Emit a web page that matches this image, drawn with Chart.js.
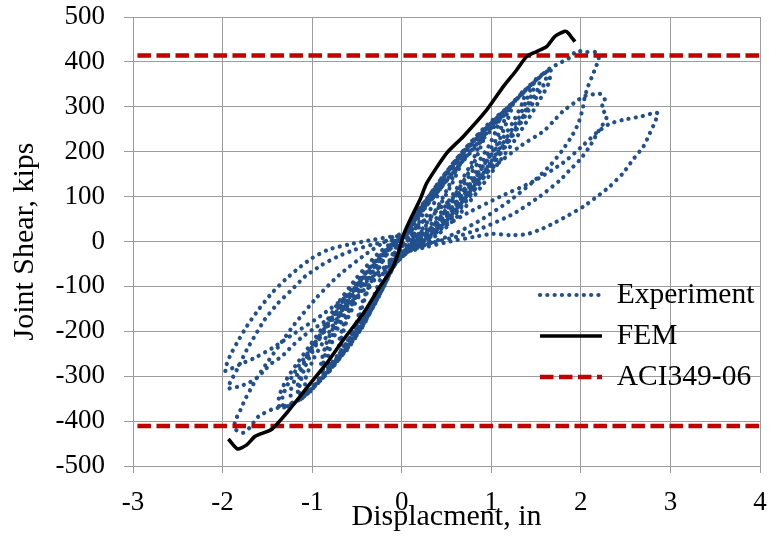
<!DOCTYPE html>
<html>
<head>
<meta charset="utf-8">
<script src="https://cdn.jsdelivr.net/npm/chart.js@4.4.1/dist/chart.umd.min.js"></script>
<style>html,body{margin:0;padding:0;background:#fff;}canvas{display:block;}</style>
</head>
<body>
<canvas id="c" width="777" height="539"></canvas>
<script>
// ---- tick labels ----
const xTicks = [-3, -2, -1, 0, 1, 2, 3, 4];
const yTicks = [-500, -400, -300, -200, -100, 0, 100, 200, 300, 400, 500];
const seriesNames = ['Experiment', 'FEM', 'ACI349-06'];

// ---- FEM curve ----
const femX = [-1.935,-1.835,-1.73,-1.637,-1.45,-1.284,-1.06,-0.837,-0.652,-0.428,-0.242,-0.1,-0.03,0.02,0.093,0.204,0.279,0.502,0.688,0.949,1.134,1.283,1.395,1.507,1.618,1.711,1.823,1.86,1.934];
const femY = [-440,-462,-453,-434,-418,-382,-326,-271,-219,-160,-100,-58,-20,15,48,93,130,197,234,293,345,382,412,423,434,457,468,464,445];

// ---- ACI349-06 limits ----
const aciX = [-2.95, 4];
const aciUpperY = [414, 414];
const aciLowerY = [-411, -411];

// ---- Experiment hysteresis, cycle by cycle ----
const expCycle1 = [[0,0],[0.08,28],[0.2,60],[0.17,45],[0.08,12],[0,-8],[-0.07,-28],[-0.15,-50],[-0.12,-38],[-0.05,-10],[0.02,8]];
const expCycle2 = [[0.12,50],[0.3,100],[0.27,80],[0.2,45],[0.08,5],[0,-12],[-0.08,-50],[-0.2,-100],[-0.18,-80],[-0.12,-45],[-0.03,-5],[0.02,10]];
const expCycle3 = [[0.12,48],[0.3,100],[0.48,150],[0.45,128],[0.36,85],[0.22,40],[0.08,0],[-0.02,-20],[-0.1,-55],[-0.2,-100],[-0.33,-150],[-0.32,-128],[-0.24,-85],[-0.13,-40],[-0.03,0],[0.03,12]];
const expCycle4 = [[0.12,50],[0.3,100],[0.48,150],[0.68,200],[0.64,175],[0.53,125],[0.38,70],[0.2,20],[0.05,-15],[-0.08,-50],[-0.2,-100],[-0.33,-150],[-0.47,-200],[-0.48,-175],[-0.4,-120],[-0.27,-65],[-0.12,-15],[0.02,12],
 [0.14,55],[0.32,105],[0.5,152],[0.7,198],[0.66,172],[0.56,128],[0.4,72],[0.22,22],[0.06,-12],[-0.07,-48],[-0.21,-104],[-0.35,-155],[-0.5,-203],[-0.5,-178],[-0.42,-124],[-0.28,-66],[-0.12,-14],[0.02,12]];
const expCycle5 = [[0.12,50],[0.3,100],[0.48,150],[0.68,200],[0.92,250],[0.88,222],[0.78,175],[0.62,120],[0.44,65],[0.25,20],[0.08,-18],[-0.08,-50],[-0.2,-100],[-0.33,-150],[-0.47,-200],[-0.65,-250],[-0.68,-222],[-0.6,-170],[-0.46,-115],[-0.3,-60],[-0.12,-12],[0.03,14],
 [0.14,52],[0.32,102],[0.5,154],[0.7,203],[0.95,252],[0.9,220],[0.8,172],[0.64,118],[0.46,62],[0.27,18],[0.09,-17],[-0.07,-48],[-0.22,-104],[-0.36,-156],[-0.5,-205],[-0.68,-254],[-0.7,-224],[-0.62,-168],[-0.48,-112],[-0.31,-58],[-0.12,-10],[0.03,13]];
const expCycle6 = [[0.12,50],[0.3,100],[0.5,155],[0.7,205],[0.93,255],[1.2,300],[1.15,272],[1.05,225],[0.88,170],[0.68,110],[0.47,55],[0.26,12],[0.08,-20],[-0.08,-52],[-0.21,-102],[-0.34,-152],[-0.48,-202],[-0.66,-252],[-0.86,-300],[-0.88,-275],[-0.82,-230],[-0.68,-170],[-0.5,-108],[-0.3,-50],[-0.1,-5],[0.04,15],
 [0.13,52],[0.31,103],[0.52,158],[0.73,208],[0.96,258],[1.23,303],[1.18,270],[1.08,222],[0.9,165],[0.7,105],[0.48,50],[0.27,10],[0.08,-21],[-0.07,-50],[-0.22,-105],[-0.36,-155],[-0.5,-205],[-0.68,-255],[-0.88,-302],[-0.9,-272],[-0.84,-226],[-0.7,-166],[-0.52,-104],[-0.31,-47],[-0.1,-3],[0.04,14],
 [0.15,48],[0.38,105],[0.6,160],[0.82,215],[0.98,250],[1.1,280],[1.07,255],[0.97,212],[0.8,160],[0.6,100],[0.4,45],[0.2,8],[0.04,-18],[-0.1,-56],[-0.26,-112],[-0.42,-165],[-0.6,-220],[-0.8,-280],[-0.82,-252],[-0.73,-200],[-0.57,-140],[-0.38,-80],[-0.2,-30],[-0.04,4],[0.05,14]];
const expCycle7 = [[0.13,50],[0.31,100],[0.5,152],[0.72,205],[0.95,255],[1.2,302],[1.45,350],[1.4,318],[1.3,272],[1.12,215],[0.92,155],[0.7,95],[0.48,42],[0.26,5],[0.07,-22],[-0.08,-52],[-0.21,-102],[-0.35,-152],[-0.48,-202],[-0.66,-252],[-0.87,-302],[-1.12,-350],[-1.14,-322],[-1.07,-275],[-0.9,-210],[-0.7,-145],[-0.48,-85],[-0.26,-32],[-0.06,3],[0.05,16],
 [0.14,53],[0.33,104],[0.53,156],[0.74,208],[0.98,260],[1.23,306],[1.48,352],[1.43,315],[1.33,268],[1.15,212],[0.94,150],[0.72,90],[0.5,38],[0.27,3],[0.07,-23],[-0.07,-50],[-0.22,-104],[-0.36,-155],[-0.5,-206],[-0.68,-256],[-0.9,-306],[-1.14,-352],[-1.16,-320],[-1.09,-270],[-0.92,-205],[-0.72,-140],[-0.5,-80],[-0.27,-28],[-0.06,5],[0.05,16],
 [0.14,45],[0.36,100],[0.58,155],[0.8,205],[1.03,255],[1.22,300],[1.38,340],[1.35,310],[1.24,265],[1.08,215],[0.88,160],[0.66,100],[0.45,50],[0.22,8],[0.04,-20],[-0.1,-58],[-0.25,-110],[-0.4,-160],[-0.56,-210],[-0.74,-260],[-0.92,-305],[-1.05,-340],[-1.08,-310],[-0.98,-260],[-0.82,-205],[-0.64,-145],[-0.44,-88],[-0.24,-36],[-0.05,2],[0.05,14]];
const expCycle8 = [[0.13,50],[0.31,100],[0.5,152],[0.72,205],[0.96,256],[1.22,305],[1.45,350],[1.62,380],[1.6,355],[1.5,320],[1.38,280],[1.22,230],[1.05,180],[0.85,125],[0.62,68],[0.4,22],[0.18,-8],[0,-28],[-0.12,-60],[-0.22,-102],[-0.36,-153],[-0.5,-204],[-0.68,-254],[-0.9,-305],[-1.12,-350],[-1.32,-370],[-1.33,-345],[-1.25,-310],[-1.16,-280],[-1.0,-235],[-0.85,-190],[-0.65,-135],[-0.45,-85],[-0.25,-38],[-0.05,0],[0.06,18],
 [0.15,50],[0.38,108],[0.62,165],[0.86,222],[1.1,275],[1.32,325],[1.55,370],[1.52,340],[1.42,300],[1.28,255],[1.1,205],[0.9,150],[0.68,92],[0.45,40],[0.22,2],[0.02,-26],[-0.12,-65],[-0.28,-120],[-0.45,-175],[-0.64,-232],[-0.85,-290],[-1.05,-335],[-1.22,-360],[-1.24,-332],[-1.15,-290],[-1.0,-240],[-0.82,-188],[-0.62,-130],[-0.42,-75],[-0.22,-28],[-0.04,4],[0.06,16],
 [0.15,55],[0.33,105],[0.52,155],[0.74,208],[0.98,260],[1.25,310],[1.48,355],[1.66,383],[1.64,352],[1.54,315],[1.42,275],[1.26,225],[1.08,175],[0.88,120],[0.65,62],[0.42,18],[0.2,-10],[0,-30],[-0.13,-62],[-0.23,-104],[-0.37,-156],[-0.52,-207],[-0.7,-257],[-0.92,-308],[-1.15,-352],[-1.36,-372],[-1.37,-345],[-1.28,-305],[-1.18,-275],[-1.02,-230],[-0.86,-185],[-0.66,-130],[-0.46,-80],[-0.25,-34],[-0.05,2],[0.06,16]];
const expCycle9 = [[0.13,50],[0.31,100],[0.5,152],[0.72,205],[0.96,256],[1.22,305],[1.45,350],[1.65,385],[1.77,398],[1.88,410],[1.95,424],[2.06,422],[2.16,422],[2.2,408],
 [2.17,390],[2.12,365],[2.07,340],[2.04,318],[2.02,295],[1.97,262],[1.9,235],[1.8,205],[1.66,170],[1.45,130],[1.2,90],[0.9,50],[0.6,18],[0.3,-5],[0.05,-25],
 [-0.08,-52],[-0.21,-102],[-0.35,-152],[-0.48,-202],[-0.66,-252],[-0.87,-302],[-1.12,-350],[-1.3,-366],[-1.45,-374],[-1.6,-390],[-1.7,-415],[-1.77,-426],[-1.86,-418],
 [-1.86,-400],[-1.8,-375],[-1.75,-352],[-1.69,-330],[-1.62,-305],[-1.52,-275],[-1.38,-235],[-1.2,-185],[-0.95,-125],[-0.7,-75],[-0.4,-28],[-0.1,10],[0.1,25]];
const expCycle10 = [[0.4,70],[0.75,125],[1.05,170],[1.32,212],[1.58,245],[1.69,267],[1.8,290],[1.92,308],[2.03,323],[2.14,328],[2.23,328],[2.27,314],[2.23,298],[2.29,278],
 [2.18,240],[2.1,212],[1.99,182],[1.88,160],[1.77,137],[1.54,100],[1.25,62],[0.9,30],[0.6,10],[0.3,-5],[0.05,-25],
 [-0.3,-85],[-0.65,-150],[-0.95,-190],[-1.12,-214],[-1.23,-234],[-1.34,-256],[-1.45,-271],[-1.53,-286],[-1.6,-301],[-1.71,-315],[-1.82,-323],[-1.94,-327],
 [-1.9,-308],[-1.82,-278],[-1.73,-241],[-1.63,-207],[-1.53,-174],[-1.38,-137],[-1.23,-108],[-1.08,-78],[-0.89,-52],[-0.71,-33],[-0.52,-18],[-0.33,-7],[-0.07,4],[0.2,15]];
const expCycle11 = [[0.46,33],[0.73,63],[1.1,100],[1.47,134],[1.8,175],[2.03,215],[2.18,243],[2.32,262],[2.47,271],[2.66,278],[2.83,287],[2.86,285],
 [2.83,267],[2.77,241],[2.7,212],[2.58,182],[2.47,152],[2.32,122],[2.18,100],[2.03,78],[1.84,56],[1.66,37],[1.54,26],[1.39,16],[1.21,14],[1.02,17],[0.8,10],[0.54,0],[0.28,-12],[0,-28],
 [-0.3,-75],[-0.6,-120],[-0.9,-165],[-1.2,-205],[-1.45,-238],[-1.65,-260],[-1.8,-273],[-1.97,-288],
 [-1.92,-256],[-1.84,-226],[-1.73,-189],[-1.6,-152],[-1.45,-115],[-1.3,-85],[-1.15,-59],[-1.0,-37],[-0.82,-18],[-0.6,-7],[-0.37,2],[-0.11,11],[0.1,14]];

// ---- styles ----
const FONT = "'Liberation Serif','Times New Roman',serif";
const GRID = '#9c9c9c';
const BLUE = '#22508c';
const RED = '#c00000';
const EXP_DASH = [0.1, 7.2];
const ACI_DASH = [13.5, 5.5];

const experiment = [].concat(expCycle1, expCycle2, expCycle3, expCycle4, expCycle5, expCycle6,
  expCycle7, expCycle8, expCycle9, expCycle10, expCycle11).map(p => ({x: p[0], y: p[1]}));
const fem = femX.map((x, i) => ({x, y: femY[i]}));
const aciUpper = aciX.map((x, i) => ({x, y: aciUpperY[i]}));
const aciLower = aciX.map((x, i) => ({x, y: aciLowerY[i]}));

const legendPlacer = {
  id: 'legendPlacer',
  afterLayout(chart) {
    const lg = chart.legend;
    if (!lg) return;
    lg.left = 528.5; lg.top = 268.75;
    lg.right = 777; lg.bottom = 539;
    lg.width = lg.right - lg.left; lg.height = lg.bottom - lg.top;
  }
};

new Chart(document.getElementById('c'), {
  type: 'scatter',
  data: {
    datasets: [
      {label: seriesNames[0], data: experiment, showLine: true, borderColor: BLUE, backgroundColor: BLUE,
       borderWidth: 4.2, borderDash: EXP_DASH, borderCapStyle: 'round', pointRadius: 0, tension: 0.2, order: 3},
      {label: seriesNames[1], data: fem, showLine: true, borderColor: '#000', backgroundColor: '#000',
       borderWidth: 3.6, pointRadius: 0, tension: 0.2, borderJoinStyle: 'round', order: 1},
      {label: seriesNames[2], data: aciUpper, showLine: true, borderColor: RED, backgroundColor: RED,
       borderWidth: 4.5, borderDash: ACI_DASH, pointRadius: 0, order: 2},
      {label: seriesNames[2] + ' (lower)', data: aciLower, showLine: true, borderColor: RED, backgroundColor: RED,
       borderWidth: 4.5, borderDash: ACI_DASH, pointRadius: 0, order: 2}
    ]
  },
  options: {
    responsive: false,
    animation: false,
    devicePixelRatio: 1,
    layout: {padding: {top: 17, right: 17, left: 0, bottom: 0}},
    plugins: {
      tooltip: {enabled: false},
      legend: {
        position: 'chartArea',
        align: 'start',
        labels: {
          usePointStyle: true,
          pointStyleWidth: 62,
          padding: 11.5,
          color: '#000',
          font: {family: FONT, size: 29.5},
          generateLabels: () => [
            {text: seriesNames[0], datasetIndex: 0, strokeStyle: BLUE, fillStyle: 'rgba(0,0,0,0)', lineWidth: 4.2, lineDash: EXP_DASH, lineCap: 'round', pointStyle: 'line', hidden: false},
            {text: seriesNames[1], datasetIndex: 1, strokeStyle: '#000', fillStyle: 'rgba(0,0,0,0)', lineWidth: 3.6, lineDash: [], lineCap: 'butt', pointStyle: 'line', hidden: false},
            {text: seriesNames[2], datasetIndex: 2, strokeStyle: RED, fillStyle: 'rgba(0,0,0,0)', lineWidth: 4.5, lineDash: ACI_DASH, lineCap: 'butt', pointStyle: 'line', hidden: false}
          ]
        }
      }
    },
    scales: {
      x: {
        type: 'linear', position: 'bottom', min: -3, max: 4,
        afterBuildTicks: s => { s.ticks = xTicks.map(v => ({value: v})); },
        afterFit: s => { s.height = 73; s.paddingLeft = 0; s.paddingRight = 0; },
        grid: {color: GRID, lineWidth: 1, tickLength: 7, drawTicks: true},
        border: {color: GRID, width: 1},
        ticks: {color: '#000', font: {family: FONT, size: 27}, padding: 13.8, maxRotation: 0, autoSkip: false,
                callback: v => String(v)},
        title: {display: true, text: 'Displacment, in', color: '#000', font: {family: FONT, size: 30},
                padding: {top: 0, bottom: 4}}
      },
      y: {
        type: 'linear', position: 'left', min: -500, max: 500,
        afterBuildTicks: s => { s.ticks = yTicks.map(v => ({value: v})); },
        afterFit: s => { s.width = 133; s.paddingTop = 0; s.paddingBottom = 0; },
        grid: {color: GRID, lineWidth: 1, tickLength: 9, drawTicks: true},
        border: {color: GRID, width: 1},
        ticks: {color: '#000', font: {family: FONT, size: 27}, padding: 19, autoSkip: false,
                callback: v => String(v)},
        title: {display: true, text: 'Joint Shear, kips', color: '#000', font: {family: FONT, size: 30},
                padding: {top: 7, bottom: 0}}
      }
    }
  },
  plugins: [legendPlacer]
});
</script>
</body>
</html>
